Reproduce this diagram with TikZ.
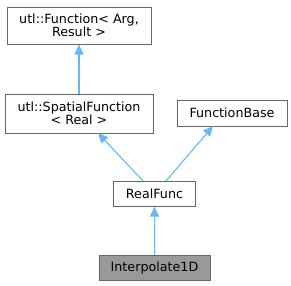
\documentclass[tikz,border=0pt]{standalone}
\usepackage{fontspec}
\setmainfont{DejaVu Sans}
\usetikzlibrary{arrows.meta}
\definecolor{edgeblue}{HTML}{63B8FF}
\definecolor{boxline}{HTML}{666666}
\definecolor{boxfill}{HTML}{999999}
\tikzset{
  cls/.style={draw=boxline, line width=1pt, fill=white, inner sep=0pt, align=center,
    font=\fontsize{12.7}{13.5}\selectfont},
  inh/.style={draw=edgeblue, line width=1.1pt, -{Triangle[length=10pt,width=9pt]}},
}
\begin{document}
\begin{tikzpicture}[x=1pt,y=-1pt]
\useasboundingbox (0,0) rectangle (291,285);
\node[cls, minimum width=144pt, minimum height=37pt] (f1) at (79,25.5) {utl::Function< Arg,\\Result >};
\node[cls, minimum width=148pt, minimum height=39pt] (sf) at (79,113.5) {utl::SpatialFunction\\< Real >};
\node[cls, minimum width=110pt, minimum height=26pt] (fb) at (232,113) {FunctionBase};
\node[cls, minimum width=82pt, minimum height=25pt] (rf) at (154.5,193.5) {RealFunc};
\node[cls, fill=boxfill, minimum width=111pt, minimum height=25pt] (i1) at (154.5,267.5) {Interpolate1D};
\coordinate (rfl) at (143,181);
\coordinate (rfr) at (166,181);
\coordinate (sfb) at (98,133);
\coordinate (fbb) at (213,126);
\draw[inh] (sf.north) -- (f1.south);
\draw[inh] (rfl) -- (sfb);
\draw[inh] (rfr) -- (fbb);
\draw[inh] (i1.north) -- (rf.south);
\end{tikzpicture}
\end{document}
